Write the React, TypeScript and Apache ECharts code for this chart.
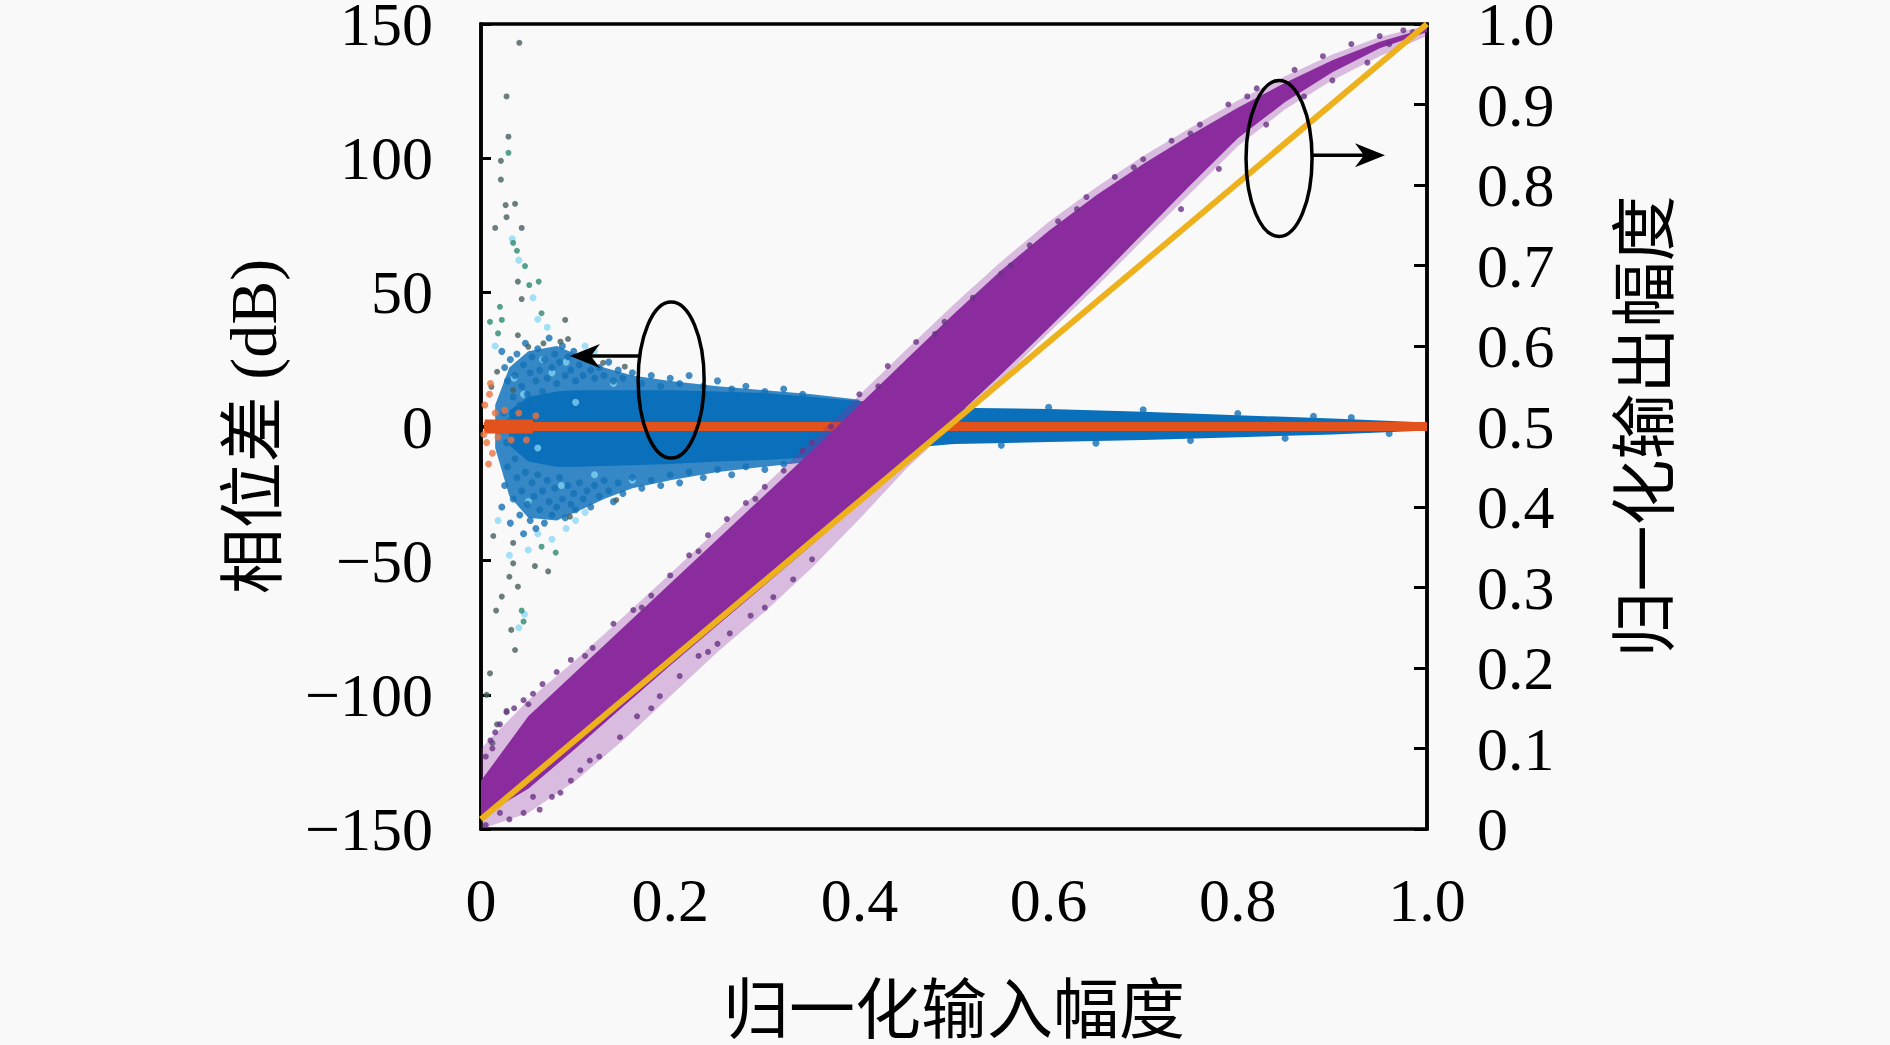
import { useEffect, useRef } from 'react';
import * as echarts from 'echarts';

// axis ticks
const xTicks = [0, 0.2, 0.4, 0.6, 0.8, 1.0];
const phaseTicks = [-150, -100, -50, 0, 50, 100, 150];
const ampTicks = [0, 0.1, 0.2, 0.3, 0.4, 0.5, 0.6, 0.7, 0.8, 0.9, 1.0];

// outer, looser part of the phase-difference cloud (dB)
const cloudX = [0.015, 0.03, 0.05, 0.08, 0.1, 0.13, 0.16, 0.2, 0.25, 0.3, 0.35, 0.4];
const cloudUpper = [8, 22, 28, 30, 27, 22, 19, 17, 15, 13.5, 12, 10];
const cloudLower = [-8, -26, -34, -35, -32, -27, -23, -20, -17, -15, -13, -11];

// dense core of the phase-difference cloud (dB)
const phaseBandX = [0.03, 0.05, 0.08, 0.1, 0.15, 0.2, 0.25, 0.3, 0.35, 0.4, 0.45, 0.5, 0.6, 0.7, 0.8, 0.9, 0.95, 1.0];
const phaseUpper = [6, 11, 13, 13.5, 13.5, 13.5, 13, 12.5, 11, 9.5, 8, 7, 6.5, 5.5, 4.2, 3, 2.2, 1.5];
const phaseLower = [-7, -13, -15, -15, -14.5, -14, -13, -12.5, -11.5, -10, -8, -6.5, -5.8, -5, -4, -3, -2.2, -1.5];

// loose points round the phase cloud
const phaseScatter = [
  [0.022, 28], [0.025, 22], [0.028, 17], [0.031, 25], [0.034, 11], [0.036, 19], [0.038, 27], [0.041, 8],
  [0.043, 15], [0.045, 23], [0.047, 31], [0.049, 12], [0.052, 20], [0.054, 26], [0.056, 9], [0.058, 17],
  [0.06, 29], [0.062, 21], [0.065, 13], [0.067, 25], [0.07, 18], [0.072, 33], [0.075, 22], [0.078, 27],
  [0.08, 16], [0.083, 24], [0.086, 30], [0.089, 19], [0.092, 26], [0.095, 21], [0.098, 28], [0.1, 17],
  [0.104, 23], [0.108, 19], [0.112, 25], [0.116, 21], [0.12, 18], [0.125, 22], [0.13, 19], [0.135, 24],
  [0.14, 17], [0.145, 21], [0.15, 18], [0.16, 20], [0.17, 16], [0.18, 19], [0.19, 15], [0.2, 18],
  [0.21, 16], [0.22, 19], [0.235, 15], [0.25, 17], [0.265, 14], [0.28, 15], [0.3, 13], [0.32, 14], [0.34, 12],
  [0.022, -30], [0.025, -22], [0.028, -15], [0.031, -36], [0.034, -27], [0.036, -12], [0.038, -19], [0.041, -33],
  [0.043, -24], [0.045, -40], [0.047, -17], [0.049, -29], [0.052, -35], [0.054, -21], [0.056, -26], [0.058, -38],
  [0.06, -18], [0.062, -31], [0.065, -24], [0.067, -36], [0.07, -20], [0.072, -28], [0.075, -33], [0.078, -23],
  [0.08, -30], [0.083, -19], [0.086, -27], [0.089, -34], [0.092, -22], [0.095, -29], [0.098, -25], [0.1, -31],
  [0.104, -21], [0.108, -27], [0.112, -24], [0.116, -30], [0.12, -22], [0.125, -26], [0.13, -20], [0.135, -24],
  [0.14, -28], [0.145, -21], [0.15, -25], [0.16, -19], [0.17, -23], [0.18, -20], [0.19, -22], [0.2, -18],
  [0.21, -21], [0.22, -17], [0.235, -19], [0.25, -16], [0.265, -18], [0.28, -15], [0.3, -16], [0.32, -14],
  [0.34, -15], [0.36, -13], [0.024, 5], [0.027, -6], [0.03, 2], [0.033, -3],
  [0.5, 7.5], [0.55, -7], [0.6, 7.2], [0.65, -6.2], [0.7, 6.2], [0.75, -5.2], [0.8, 4.8], [0.85, -4.4],
  [0.88, 3.8], [0.92, 3.3], [0.96, -2.6],
];

// pale points inside and round the cloud
const phaseHalo = [
  [0.033, 70], [0.04, 62], [0.055, 48], [0.06, 40], [0.07, 37], [0.03, -48], [0.05, -46], [0.06, -40],
  [0.075, -42], [0.09, -38], [0.1, -35], [0.11, -32], [0.12, 28], [0.11, 30], [0.04, -75], [0.046, -70],
  [0.018, -35], [0.015, 30], [0.045, 12], [0.06, -8], [0.075, 20], [0.085, -22], [0.1, 9], [0.12, -18],
  [0.065, 25], [0.05, -28], [0.09, 24], [0.14, 16], [0.16, -20], [0.035, 18],
];

const phaseOutliers = [
  [0.0405, 143], [0.027, 123], [0.029, 108], [0.021, 99], [0.021, 92], [0.026, 82.5], [0.036, 83], [0.027, 78],
  [0.015, 74], [0.043, 74], [0.039, 54], [0.043, 47.5], [0.089, 39.7], [0.039, 34], [0.05, 29.7], [0.066, 31],
  [0.084, 31.6], [0.092, 32.6], [0.017, 20.4], [0.011, 14.8], [0.034, 13.6], [0.129, 23.7], [0.152, 22.3],
  [0.013, -40.8], [0.034, -43.4], [0.057, -52], [0.071, -54], [0.034, -51], [0.03, -56], [0.039, -59.7],
  [0.022, -63.4], [0.016, -68.6], [0.032, -75.8], [0.036, -83.3], [0.0095, -92], [0.027, -106], [0.017, -111],
  [0.143, -27.4], [0.094, -33.6], [0.006, -100], [0.012, -118],
];

const phaseGreen = [
  [0.029, 102], [0.0465, 59.8], [0.051, 52.7], [0.061, 54], [0.0095, 39], [0.064, 42.2], [0.064, -44.8],
  [0.079, -47], [0.043, -68.6], [0.045, -72.7], [0.034, 68.4], [0.038, 65.5], [0.02, 44.6], [0.022, 39.7], [0.018, 34.7],
];

// mean phase difference (dB)
const phaseMean = [[0.003, 0], [1.0, 0]];
const phaseMeanHead = [[0.004, 0], [0.055, 0]];
const phaseMeanDots = [
  [0.004, 8], [0.006, -6], [0.009, 12], [0.012, -10], [0.015, 5], [0.018, -4], [0.008, -14], [0.01, 16],
  [0.025, 6], [0.032, -5], [0.04, 5], [0.048, -5], [0.058, 4], [0.003, -3],
];

// output amplitude cloud: speckled fringe and dense core
const ampBandX = [0, 0.05, 0.1, 0.15, 0.2, 0.25, 0.3, 0.35, 0.4, 0.45, 0.5, 0.55, 0.6, 0.65, 0.7, 0.75, 0.8, 0.85, 0.9, 0.95, 1.0];
const ampFringeUpper = [0.1, 0.16, 0.21, 0.263, 0.317, 0.372, 0.427, 0.482, 0.539, 0.596, 0.652, 0.705, 0.754, 0.797, 0.836, 0.871, 0.905, 0.935, 0.962, 0.984, 0.998];
const ampUpper = [0.06, 0.14, 0.195, 0.25, 0.305, 0.36, 0.415, 0.47, 0.527, 0.584, 0.64, 0.694, 0.743, 0.787, 0.826, 0.862, 0.896, 0.927, 0.955, 0.978, 0.995];
const ampLower = [0.015, 0.05, 0.1, 0.152, 0.203, 0.253, 0.303, 0.353, 0.405, 0.458, 0.51, 0.565, 0.622, 0.68, 0.74, 0.8, 0.858, 0.903, 0.94, 0.97, 0.99];
const ampFringeLower = [0.0, 0.02, 0.06, 0.11, 0.165, 0.22, 0.27, 0.325, 0.385, 0.448, 0.503, 0.558, 0.616, 0.673, 0.732, 0.79, 0.848, 0.894, 0.93, 0.96, 0.985];

const ampScatter = [
  [0.005, 0.09], [0.01, 0.11], [0.015, 0.12], [0.02, 0.13], [0.027, 0.145], [0.035, 0.15], [0.045, 0.16],
  [0.055, 0.168], [0.065, 0.18], [0.08, 0.195], [0.095, 0.21], [0.118, 0.225], [0.14, 0.255], [0.161, 0.272],
  [0.18, 0.29], [0.2, 0.315], [0.22, 0.34], [0.24, 0.365], [0.26, 0.385], [0.28, 0.405], [0.3, 0.425],
  [0.32, 0.445], [0.34, 0.47], [0.37, 0.5], [0.4, 0.54], [0.43, 0.575], [0.46, 0.605], [0.49, 0.63],
  [0.52, 0.66], [0.55, 0.69], [0.58, 0.725], [0.61, 0.755], [0.64, 0.785], [0.67, 0.81], [0.7, 0.832],
  [0.73, 0.855], [0.76, 0.875], [0.79, 0.9], [0.82, 0.92], [0.86, 0.943], [0.89, 0.96], [0.92, 0.975],
  [0.95, 0.985], [0.975, 0.992],
  [0.012, 0.1], [0.05, 0.155], [0.11, 0.215], [0.17, 0.275], [0.23, 0.345], [0.29, 0.41], [0.35, 0.48],
  [0.42, 0.55], [0.48, 0.615], [0.56, 0.7], [0.63, 0.77], [0.69, 0.822], [0.75, 0.864], [0.81, 0.91],
  [0.005, 0.005], [0.03, 0.012], [0.045, 0.02], [0.062, 0.024], [0.075, 0.04], [0.084, 0.045], [0.095, 0.06],
  [0.105, 0.073], [0.125, 0.09], [0.147, 0.114], [0.165, 0.14], [0.189, 0.165], [0.21, 0.19], [0.23, 0.215],
  [0.25, 0.23], [0.263, 0.243], [0.285, 0.265], [0.309, 0.288], [0.33, 0.31], [0.35, 0.335],
  [0.02, 0.02], [0.055, 0.04], [0.115, 0.085], [0.18, 0.15], [0.24, 0.22], [0.3, 0.275],
  [0.74, 0.77], [0.78, 0.82], [0.83, 0.875], [0.87, 0.91], [0.9, 0.93], [0.937, 0.952], [0.96, 0.975], [0.985, 0.99],
];

// linear reference
const ampIdeal = [[0, 0.012], [1.0, 1.0]];

// annotation anchors, in data units
const leftMark = { center: [0.201, 17.3], from: [0.168, 26.3], to: [0.094, 26.3] };
const rightMark = { center: [0.8436, 0.833], from: [0.8795, 0.837], to: [0.9556, 0.837] };

const numFont = "'Liberation Serif', 'DejaVu Serif', serif";
const nameFont = "'Liberation Serif', 'Noto Sans CJK SC', sans-serif";

const fmtFrac = (v: number) => (v === 0 ? '0' : v.toFixed(1));
const fmtPhase = (v: number) => (v < 0 ? '\u2212' + Math.abs(v) : String(v));

// filled band between two bounds, drawn through the axes
const band = (xs: number[], lo: number[], hi: number[], yAxisIndex: number, color: string, z: number, opacity = 1) => ({
  type: 'custom',
  yAxisIndex,
  z,
  silent: true,
  clip: true,
  data: xs.map((x, i) => [x, lo[i], hi[i]]),
  encode: { x: 0, y: [1, 2] },
  renderItem: (params: any, api: any) => {
    if (params.dataIndex !== 0) return null;
    const pts: number[][] = [];
    for (let i = 0; i < xs.length; i++) pts.push(api.coord([xs[i], lo[i]]));
    for (let i = xs.length - 1; i >= 0; i--) pts.push(api.coord([xs[i], hi[i]]));
    return { type: 'polygon', shape: { points: pts }, style: { fill: color, opacity } };
  },
});

const App: React.FC = () => {
  const chartRef = useRef<HTMLDivElement>(null);

  useEffect(() => {
    document.body.style.margin = '0';
    document.body.style.background = '#f9f9f9';
    if (!chartRef.current) return;
    const chart = echarts.init(chartRef.current, null, { renderer: 'svg' });

    const axisLine = { show: true, lineStyle: { color: '#000', width: 3.5 } };
    const tick = (len: number) => ({ show: true, inside: true, length: len, lineStyle: { color: '#000', width: 3 } });
    const label = (margin: number, formatter: (v: number) => string) => ({
      fontFamily: numFont, fontSize: 62, lineHeight: 46, color: '#000', margin, formatter,
    });
    const nameStyle = { fontFamily: nameFont, fontSize: 66, color: '#000' };

    const option: echarts.EChartsOption = {
      animation: false,
      backgroundColor: '#f9f9f9',
      grid: {
        left: 481, right: 463, top: 24, bottom: 216,
        show: true, borderColor: '#000', borderWidth: 3.5, backgroundColor: 'transparent',
        outerBoundsMode: 'none',
      } as any,
      xAxis: {
        type: 'value',
        min: xTicks[0],
        max: xTicks[xTicks.length - 1],
        interval: xTicks[1] - xTicks[0],
        name: '归一化输入幅度',
        nameLocation: 'middle',
        nameGap: 148,
        nameTextStyle: nameStyle,
        axisLine,
        axisTick: tick(10),
        splitLine: { show: false },
        axisLabel: label(48, fmtFrac),
      },
      yAxis: [
        {
          type: 'value',
          position: 'left',
          min: phaseTicks[0],
          max: phaseTicks[phaseTicks.length - 1],
          interval: phaseTicks[1] - phaseTicks[0],
          name: '相位差 (dB)',
          nameLocation: 'middle',
          nameRotate: 90,
          nameGap: 195,
          nameTextStyle: nameStyle,
          axisLine,
          axisTick: tick(10),
          splitLine: { show: false },
          axisLabel: label(48, fmtPhase),
        },
        {
          type: 'value',
          position: 'right',
          min: ampTicks[0],
          max: ampTicks[ampTicks.length - 1],
          interval: 0.1,
          name: '归一化输出幅度',
          nameLocation: 'middle',
          nameRotate: 90,
          nameGap: 185,
          nameTextStyle: nameStyle,
          axisLine,
          axisTick: tick(13),
          splitLine: { show: false },
          axisLabel: label(50, fmtFrac),
        },
      ],
      series: [
        band(cloudX, cloudLower, cloudUpper, 0, '#1f7bbf', 1, 0.9) as any,
        band(phaseBandX, phaseLower, phaseUpper, 0, '#0a70bb', 1) as any,
        {
          type: 'scatter', yAxisIndex: 0, z: 2, silent: true, symbolSize: 7,
          itemStyle: { color: '#86d6f4', opacity: 0.75 },
          data: phaseHalo,
        },
        {
          type: 'scatter', yAxisIndex: 0, z: 2, silent: true, symbolSize: 7,
          itemStyle: { color: '#1470b5' },
          data: phaseScatter,
        },
        {
          type: 'scatter', yAxisIndex: 0, z: 2, silent: true, symbolSize: 6,
          itemStyle: { color: '#465f60' },
          data: phaseOutliers,
        },
        {
          type: 'scatter', yAxisIndex: 0, z: 2, silent: true, symbolSize: 6,
          itemStyle: { color: '#2b8a72' },
          data: phaseGreen,
        },
        {
          type: 'line', yAxisIndex: 0, z: 3, silent: true, symbol: 'none',
          lineStyle: { color: '#e2521c', width: 9 },
          data: phaseMean,
        },
        {
          type: 'line', yAxisIndex: 0, z: 3, silent: true, symbol: 'none',
          lineStyle: { color: '#e2521c', width: 14 },
          data: phaseMeanHead,
        },
        {
          type: 'scatter', yAxisIndex: 0, z: 3, silent: true, symbolSize: 7,
          itemStyle: { color: '#ec7340' },
          data: phaseMeanDots,
        },
        band(ampBandX, ampFringeLower, ampFringeUpper, 1, '#8a2c9e', 4, 0.3) as any,
        band(ampBandX, ampLower, ampUpper, 1, '#8a2c9e', 4) as any,
        {
          type: 'scatter', yAxisIndex: 1, z: 4, silent: true, symbolSize: 6,
          itemStyle: { color: '#6a3384' },
          data: ampScatter,
        },
        {
          type: 'line', yAxisIndex: 1, z: 5, silent: true, symbol: 'none',
          lineStyle: { color: '#eeb11e', width: 6 },
          data: ampIdeal,
        },
      ],
    };

    chart.setOption(option);

    const px = (p: number[], yAxisIndex: number) =>
      chart.convertToPixel({ xAxisIndex: 0, yAxisIndex }, p) as number[];

    const mark = (m: typeof leftMark, yAxisIndex: number, dir: number) => {
      const c = px(m.center, yAxisIndex);
      const a = px(m.from, yAxisIndex);
      const b = px(m.to, yAxisIndex);
      const stroke = { stroke: '#000', lineWidth: 3.5 };
      return [
        { type: 'ellipse', shape: { cx: c[0], cy: c[1], rx: 33, ry: 78 }, style: { fill: 'none', ...stroke }, z: 100 },
        { type: 'line', shape: { x1: a[0], y1: a[1], x2: b[0] - dir * 20, y2: b[1] }, style: stroke, z: 100 },
        {
          type: 'polygon',
          shape: {
            points: [
              [b[0], b[1]],
              [b[0] - dir * 30, b[1] - 12],
              [b[0] - dir * 21, b[1]],
              [b[0] - dir * 30, b[1] + 12],
            ],
          },
          style: { fill: '#000' },
          z: 100,
        },
      ];
    };

    chart.setOption({
      graphic: [...mark(leftMark, 0, -1), ...mark(rightMark, 1, 1)],
    });

    return () => {
      chart.dispose();
    };
  }, []);

  return <div ref={chartRef} style={{ width: '1890px', height: '1045px' }} />;
};

export default App;
